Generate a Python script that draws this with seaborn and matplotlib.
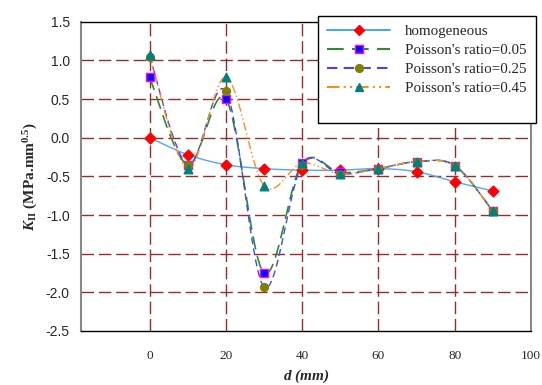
import numpy as np
import matplotlib
matplotlib.use("Agg")
import matplotlib.pyplot as plt
from matplotlib.lines import Line2D
import seaborn as sns

# data
d_mm = [0, 10, 20, 30, 40, 50, 60, 70, 80, 90]
homogeneous = [0.00, -0.22, -0.35, -0.40, -0.42, -0.42, -0.40, -0.44, -0.57, -0.69]
nu_005 = [0.78, -0.35, 0.50, -1.75, -0.33, -0.45, -0.40, -0.31, -0.36, -0.95]
nu_025 = [1.05, -0.35, 0.60, -1.93, -0.35, -0.47, -0.40, -0.31, -0.36, -0.95]
nu_045 = [1.07, -0.40, 0.78, -0.62, -0.33, -0.47, -0.40, -0.31, -0.36, -0.95]
labels = ["homogeneous", "Poisson's ratio=0.05", "Poisson's ratio=0.25", "Poisson's ratio=0.45"]


def smooth(x, y, n=30):
    # excel-style smoothed line (bezier through the points)
    x = np.asarray(x, float)
    y = np.asarray(y, float)
    px = np.concatenate([[x[0]], x, [x[-1]]])
    py = np.concatenate([[y[0]], y, [y[-1]]])
    t = np.linspace(0, 1, n)
    ox, oy = [], []
    for i in range(1, len(px) - 2):
        b0 = (px[i], py[i])
        b1 = (px[i] + (px[i + 1] - px[i - 1]) / 6, py[i] + (py[i + 1] - py[i - 1]) / 6)
        b2 = (px[i + 1] - (px[i + 2] - px[i]) / 6, py[i + 1] - (py[i + 2] - py[i]) / 6)
        b3 = (px[i + 1], py[i + 1])
        for k in range(2):
            c = ((1 - t) ** 3 * b0[k] + 3 * (1 - t) ** 2 * t * b1[k]
                 + 3 * (1 - t) * t ** 2 * b2[k] + t ** 3 * b3[k])
            (ox if k == 0 else oy).extend(c)
    return ox, oy


sns.set_style("white")
plt.rcParams["font.family"] = ["Liberation Serif", "DejaVu Sans"]
plt.rcParams["mathtext.fontset"] = "custom"
plt.rcParams["mathtext.rm"] = "Liberation Serif"
plt.rcParams["mathtext.it"] = "Liberation Serif:italic"
plt.rcParams["mathtext.bf"] = "Liberation Serif:bold"
plt.rcParams["mathtext.bfit"] = "Liberation Serif:italic:bold"

fig = plt.figure(figsize=(5.42, 3.85), dpi=100)
ax = fig.add_axes([0.1494, 0.1403, 0.8303, 0.8033])

series = [
    (homogeneous, "#4DA6FF", "-", 1.0, "D", "red", "red", 30),
    (nu_005, "#2E8B2E", (0, (8, 4)), 1.2, "s", "#0000FF", "#FF00FF", 26),
    (nu_025, "#4444FF", (0, (5, 3)), 1.0, "o", "#808000", "#808000", 32),
    (nu_045, "#FF8C1A", (0, (6, 2, 1, 2, 1, 2)), 1.0, "^", "#008080", "#008080", 38),
]

handles = []
for vals, lc, ls, lw, mk, mfc, mec, s in series:
    sx, sy = smooth(d_mm, vals)
    sns.lineplot(x=sx, y=sy, ax=ax, color=lc, linestyle=ls, linewidth=lw,
                 sort=False, estimator=None, zorder=3)
    sns.scatterplot(x=d_mm, y=vals, ax=ax, marker=mk, color=mfc, edgecolor=mec,
                    s=s, linewidth=1.0, zorder=4)
    handles.append(Line2D([], [], color=lc, linestyle=ls, linewidth=1.5, marker=mk,
                          markerfacecolor=mfc, markeredgecolor=mec, markersize=np.sqrt(s)))
handles.append(Line2D([], [], color="none"))

ax.set_xlim(-18, 100)
ax.set_ylim(-2.5, 1.5)
ax.set_xticks([0, 20, 40, 60, 80, 100])
ax.set_yticks(np.arange(-2.5, 1.51, 0.5))
ax.set_yticklabels([f"{v:.1f}" for v in np.arange(-2.5, 1.51, 0.5)],
                   fontfamily="Liberation Sans", fontsize=10)
for lab in ax.get_xticklabels():
    lab.set_fontsize(9.5)

# dashed grid
for yv in [1.0, 0.5, 0.0, -0.5, -1.0, -1.5, -2.0]:
    ax.axhline(yv, color="#9B2A2A", linestyle=(0, (9, 3.5)), linewidth=1.0, zorder=1)
for xv in [0, 20, 40, 60, 80]:
    ax.axvline(xv, color="#9B2A2A", linestyle=(0, (9, 3.5)), linewidth=1.0, zorder=1)

ax.tick_params(axis="both", direction="out", length=4, width=1, color="black")
ax.tick_params(axis="x", pad=10)
ax.tick_params(axis="y", pad=4)
for side in ["top", "bottom"]:
    ax.spines[side].set_color("black")
    ax.spines[side].set_linewidth(1.0)
for side in ["left", "right"]:
    ax.spines[side].set_color("#888888")
    ax.spines[side].set_linewidth(1.5)

ax.set_xlabel(r"$\mathbfit{d}$ (mm)", fontsize=11, fontweight="bold", style="italic", labelpad=4)
ax.set_ylabel(r"$\mathbfit{K}_{\mathbf{II}}$ (MPa.mm$^{\mathbf{0.5}}$)", fontsize=11,
              fontweight="bold", labelpad=4)

leg = ax.legend(handles, labels + [" "], loc="upper left", bbox_to_anchor=(318 / 542, 1 - 16 / 385),
                bbox_transform=fig.transFigure, fontsize=10.8, frameon=True, fancybox=False,
                framealpha=1, edgecolor="black", handlelength=4.2, handletextpad=1.0,
                labelspacing=0.35, borderpad=0.6, borderaxespad=0)
leg.get_frame().set_linewidth(1.0)
leg.set_zorder(10)

fig.savefig("out.png", dpi=100)
